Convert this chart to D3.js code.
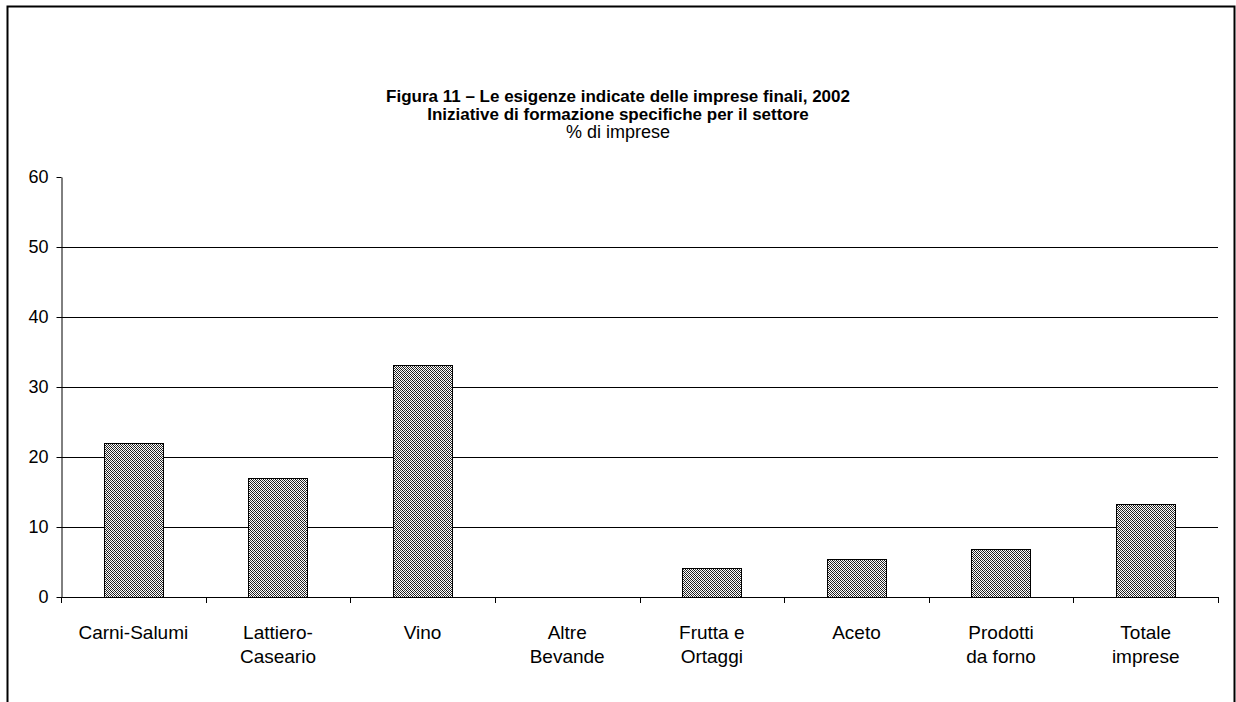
<!DOCTYPE html>
<html>
<head>
<meta charset="utf-8">
<script src="https://cdn.jsdelivr.net/npm/d3@7"></script>
<style>
  body { margin: 0; background: #fff; }
  svg { display: block; font-family: Arial, "Liberation Sans", sans-serif; }
</style>
</head>
<body>
<div id="chart"></div>
<script>
// Data
let categories = [['Carni-Salumi'], ['Lattiero-', 'Caseario'], ['Vino'], ['Altre', 'Bevande'],
  ['Frutta e', 'Ortaggi'], ['Aceto'], ['Prodotti', 'da forno'], ['Totale', 'imprese']]
let values = [22, 17, 33.2, 0, 4.1, 5.5, 6.8, 13.3]
let yTicks = [0, 10, 20, 30, 40, 50, 60]
let titleLines = ['Figura 11 – Le esigenze indicate delle imprese finali, 2002',
  'Iniziative di formazione specifiche per il settore']
let subtitle = '% di imprese'

// Plot constants
let W = 1236, H = 702
let margin = {t: 177, r: 18, b: 105, l: 61}
let width = W - margin.l - margin.r
let height = H - margin.t - margin.b

let svg = d3.select('#chart').append('svg')
  .attr('width', W)
  .attr('height', H)

// Fine hatch pattern for bars
let pat = svg.append('defs').append('pattern')
  .attr('id', 'hatch')
  .attr('patternUnits', 'userSpaceOnUse')
  .attr('width', 4).attr('height', 4)
pat.append('rect').attr('width', 4).attr('height', 4).attr('fill', '#fff')
d3.range(16).forEach(function(k){
  let px = k % 4, py = Math.floor(k / 4)
  if ((px + py) % 2 === 0) {
    pat.append('rect').attr('x', px).attr('y', py).attr('width', 1).attr('height', 1)
      .attr('fill', (px - py + 4) % 4 === 0 ? '#111' : '#444')
  }
})

// Outer frame
svg.append('rect')
  .attr('x', 7.5).attr('y', 6.5)
  .attr('width', 1227).attr('height', 800)
  .attr('fill', 'none')
  .attr('stroke', '#000')
  .attr('stroke-width', 2)

// Titles
svg.append('g').selectAll('text')
  .data(titleLines)
  .enter().append('text')
  .attr('x', 618)
  .attr('y', function(d, i){ return 102 + i * 18 })
  .attr('text-anchor', 'middle')
  .style('font-weight', 'bold')
  .style('font-size', '17px')
  .text(function(d){ return d })

svg.append('text')
  .attr('x', 618).attr('y', 138)
  .attr('text-anchor', 'middle')
  .style('font-size', '18px')
  .text(subtitle)

let g = svg.append('g').attr('transform', `translate(${margin.l},${margin.t})`)

let x = d3.scaleBand()
  .domain(d3.range(categories.length))
  .range([0, width])
  .paddingInner(0.59)
  .paddingOuter(0.295)

let y = d3.scaleLinear()
  .domain([0, 60])
  .range([height, 0])

// Gridlines
g.append('g').selectAll('line')
  .data(yTicks.filter(function(d){ return d > 0 && d < 60 }))
  .enter().append('line')
  .attr('x1', 0).attr('x2', width)
  .attr('y1', function(d){ return Math.round(y(d)) + 0.5 })
  .attr('y2', function(d){ return Math.round(y(d)) + 0.5 })
  .attr('stroke', '#000')

// Bars
let y0 = Math.round(y(0))
g.append('g').selectAll('rect')
  .data(values)
  .enter().append('rect')
  .attr('x', function(d, i){ return Math.round(x(i)) + 0.5 })
  .attr('y', function(d){ return Math.round(y(d)) + 0.5 })
  .attr('width', Math.round(x.bandwidth()))
  .attr('height', function(d){ return y0 - Math.round(y(d)) })
  .attr('fill', 'url(#hatch)')
  .attr('stroke', function(d){ return d > 0 ? '#000' : 'none' })

// Y axis
let yAxis = d3.axisLeft(y)
  .tickValues(yTicks)
  .tickSize(5)
  .tickSizeOuter(0)
  .tickPadding(8)
g.append('g')
  .attr('class', 'y-axis')
  .attr('transform', 'translate(0.5,0)')
  .call(yAxis)
  .call(function(s){ s.selectAll('text').style('font-size', '18px').attr('fill', '#000') })

// X axis baseline and ticks
let bounds = d3.range(categories.length + 1).map(function(i){ return i * width / categories.length })
g.append('line')
  .attr('x1', 0).attr('x2', width)
  .attr('y1', y0 + 0.5).attr('y2', y0 + 0.5)
  .attr('stroke', '#000')
g.append('g').selectAll('line')
  .data(bounds)
  .enter().append('line')
  .attr('x1', function(d){ return Math.round(d) + 0.5 })
  .attr('x2', function(d){ return Math.round(d) + 0.5 })
  .attr('y1', y0).attr('y2', y0 + 6)
  .attr('stroke', '#000')

// Category labels
let labels = g.append('g').selectAll('text')
  .data(categories)
  .enter().append('text')
  .attr('text-anchor', 'middle')
  .style('font-size', '19px')
labels.selectAll('tspan')
  .data(function(d, i){ return d.map(function(t){ return {t: t, i: i} }) })
  .enter().append('tspan')
  .attr('x', function(d){ return x(d.i) + x.bandwidth() / 2 })
  .attr('y', function(d, j){ return height + 42 + j * 24 })
  .text(function(d){ return d.t })
</script>
</body>
</html>
